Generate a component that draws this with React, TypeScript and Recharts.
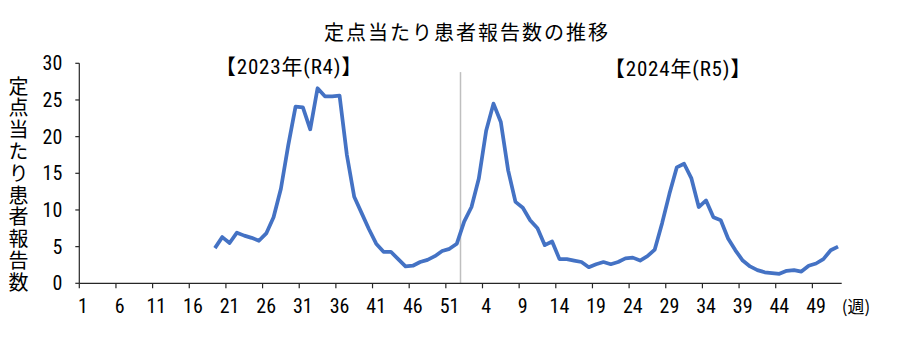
import React from 'react';
import { LineChart, Line, XAxis, YAxis, ReferenceLine } from 'recharts';

// weeks per season, the chart runs over two years of weekly reports
const years = ['2023年(R4)', '2024年(R5)'];
const weeks = Array.from({ length: 52 }, (_, i) => i + 1);

// reports per sentinel site, weeks 1-52 (2023 starts at week 19)
const values2023: (number | null)[] = [
  null, null, null, null, null, null, null, null, null, null,
  null, null, null, null, null, null, null, null,
  4.8, 6.3, 5.5, 6.9, 6.5, 6.2, 5.8, 6.8, 9.0, 12.9,
  18.8, 24.1, 24.0, 21.0, 26.6, 25.5, 25.5, 25.6, 17.5, 11.8,
  9.6, 7.4, 5.4, 4.3, 4.3, 3.3, 2.3, 2.4, 2.9, 3.2,
  3.7, 4.4, 4.7, 5.4,
];

const values2024: (number | null)[] = [
  8.4, 10.4, 14.3, 20.8, 24.5, 22.0, 15.4, 11.1, 10.3, 8.6,
  7.5, 5.2, 5.7, 3.3, 3.3, 3.1, 2.9, 2.2, 2.6, 2.9,
  2.6, 2.9, 3.4, 3.5, 3.1, 3.7, 4.6, 8.2, 12.2, 15.8,
  16.3, 14.3, 10.4, 11.3, 9.0, 8.6, 6.1, 4.5, 3.1, 2.3,
  1.8, 1.5, 1.4, 1.3, 1.7, 1.8, 1.6, 2.4, 2.7, 3.3,
  4.5, 5.0,
];

const yTicks = [0, 5, 10, 15, 20, 25, 30];

// one label every 5 categories, tick marks sit on the category boundaries
const weekLabels = [...weeks, ...weeks];
const xTicks = weekLabels.map((_, i) => i).filter((i) => i % 5 === 0);

const data = [...values2023, ...values2024].map((v, i) => ({
  pos: i + 0.5,
  value: v,
}));

const W = 900;
const H = 358;
const PLOT_LEFT = 79.3;
const PLOT_RIGHT = 841.7;
const PLOT_TOP = 63.3;
const PLOT_BOTTOM = 283.3;
const X_AXIS_H = 30;
const HALF_BAND = (PLOT_RIGHT - PLOT_LEFT) / weekLabels.length / 2;

const AXIS_COLOR = '#262626';
const NUM_FONT = "'Liberation Sans Narrow', 'Arial Narrow', 'Roboto Condensed', 'Noto Sans CJK JP', sans-serif";
const JP_FONT = "'Noto Sans CJK JP', 'Noto Sans', sans-serif";

const WeekTick = (props: any) => {
  const { x, y, payload } = props;
  return (
    <text
      x={x + HALF_BAND}
      y={y + 17.5}
      textAnchor="middle"
      dominantBaseline="central"
      fontFamily={NUM_FONT}
      fontSize={20}
      fill="#000"
    >
      {weekLabels[payload.value]}
    </text>
  );
};

const App: React.FC = () => {
  return (
    <div style={{ position: 'absolute', left: 0, top: 0, width: W, height: H, background: '#fff' }}>
      <LineChart
        width={W}
        height={H}
        data={data}
        margin={{ top: PLOT_TOP, right: W - PLOT_RIGHT, left: 0, bottom: H - PLOT_BOTTOM - X_AXIS_H }}
      >
        <XAxis
          type="number"
          dataKey="pos"
          domain={[0, weekLabels.length]}
          ticks={xTicks}
          interval={0}
          height={X_AXIS_H}
          tickSize={5}
          tickMargin={0}
          tick={<WeekTick />}
          axisLine={{ stroke: AXIS_COLOR, strokeWidth: 1.2 }}
          tickLine={{ stroke: AXIS_COLOR, strokeWidth: 1.2 }}
        />
        <YAxis
          type="number"
          domain={[0, 30]}
          ticks={yTicks}
          width={PLOT_LEFT}
          tickSize={4}
          tickMargin={13}
          axisLine={{ stroke: AXIS_COLOR, strokeWidth: 1.2 }}
          tickLine={{ stroke: AXIS_COLOR, strokeWidth: 1.2 }}
          tick={{ fontFamily: NUM_FONT, fontSize: 20, fill: '#000' }}
        />
        <ReferenceLine
          segment={[{ x: 52, y: 0 }, { x: 52, y: 28.8 }]}
          stroke="#BFBFBF"
          strokeWidth={1.5}
        />
        <Line
          type="linear"
          dataKey="value"
          stroke="#4472C4"
          strokeWidth={3.75}
          dot={false}
          isAnimationActive={false}
          strokeLinejoin="round"
        />
      </LineChart>

      <div
        style={{
          position: 'absolute', left: 0, width: 934, top: 18, textAlign: 'center',
          fontFamily: JP_FONT, fontSize: 20, letterSpacing: 2, lineHeight: '28px', color: '#000',
        }}
      >
        定点当たり患者報告数の推移
      </div>

      <div
        style={{
          position: 'absolute', left: 189, width: 200, top: 53, textAlign: 'center',
          fontFamily: NUM_FONT, fontSize: 21, letterSpacing: 0.8, lineHeight: '28px', color: '#000',
        }}
      >
        【{years[0]}】
      </div>
      <div
        style={{
          position: 'absolute', left: 578, width: 200, top: 55, textAlign: 'center',
          fontFamily: NUM_FONT, fontSize: 21, letterSpacing: 0.8, lineHeight: '28px', color: '#000',
        }}
      >
        【{years[1]}】
      </div>

      <div
        style={{
          position: 'absolute', left: 6, top: 76, width: 24, height: 230,
          writingMode: 'vertical-rl', fontFamily: JP_FONT, fontSize: 20,
          letterSpacing: 1.8, lineHeight: '24px', color: '#000',
        }}
      >
        定点当たり患者報告数
      </div>

      <div
        style={{
          position: 'absolute', left: 836, top: 293, width: 40, textAlign: 'center',
          fontFamily: JP_FONT, fontSize: 17, lineHeight: '26px', color: '#000',
        }}
      >
        (週)
      </div>
    </div>
  );
};

export default App;
